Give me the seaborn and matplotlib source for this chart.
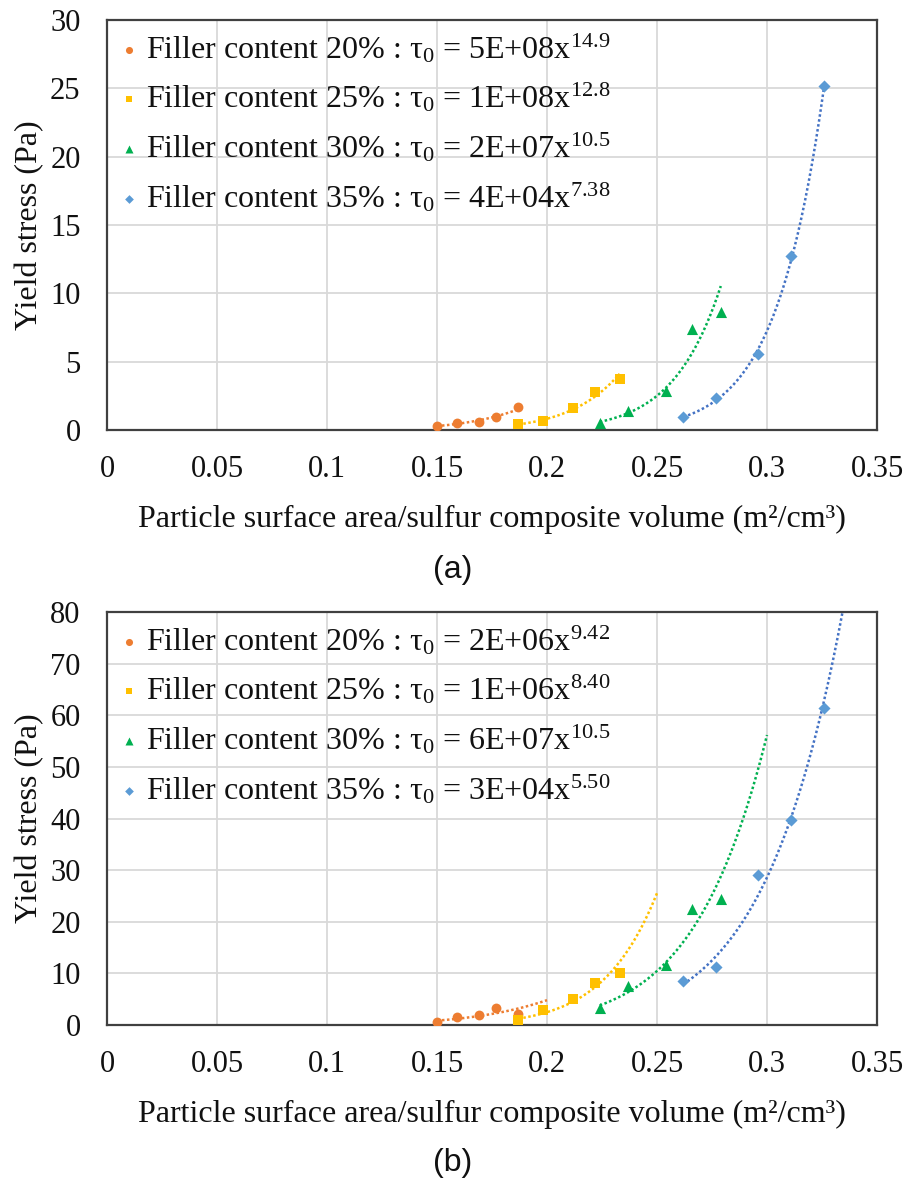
import numpy as np
import pandas as pd
import matplotlib
matplotlib.use("Agg")
import matplotlib.pyplot as plt
import seaborn as sns

sns.set_theme(style="whitegrid")
plt.rcParams["font.family"] = ["Liberation Serif", "DejaVu Serif"]
plt.rcParams["mathtext.fontset"] = "custom"
plt.rcParams["mathtext.rm"] = "Liberation Serif"
plt.rcParams["mathtext.it"] = "Liberation Serif:italic"

# Particle surface area / sulfur composite volume (m2/cm3) per filler content
series_names = ["Filler content 20%", "Filler content 25%",
                "Filler content 30%", "Filler content 35%"]
x20 = [0.150, 0.159, 0.169, 0.177, 0.187]
x25 = [0.187, 0.198, 0.212, 0.222, 0.233]
x30 = [0.224, 0.237, 0.254, 0.266, 0.279]
x35 = [0.262, 0.277, 0.296, 0.311, 0.326]

# Yield stress (Pa), panel (a)
y20_a = [0.29, 0.49, 0.61, 0.93, 1.70]
y25_a = [0.41, 0.68, 1.59, 2.80, 3.71]
y30_a = [0.53, 1.41, 2.85, 7.37, 8.66]
y35_a = [0.93, 2.34, 5.56, 12.75, 25.2]

# Yield stress (Pa), panel (b)
y20_b = [0.6, 1.6, 1.9, 3.2, 2.2]
y25_b = [0.93, 3.0, 5.0, 8.1, 10.0]
y30_b = [3.3, 7.5, 11.6, 22.4, 24.4]
y35_b = [8.5, 11.2, 29.0, 39.8, 61.4]

# Power-law trend equations shown in the legends: (coefficient, exponent)
eq_a = [("5E+08", "14.9"), ("1E+08", "12.8"), ("2E+07", "10.5"), ("4E+04", "7.38")]
eq_b = [("2E+06", "9.42"), ("1E+06", "8.40"), ("6E+07", "10.5"), ("3E+04", "5.50")]

# Forward extent of the trend lines in panel (b)
trend_end_b = [0.20, 0.25, 0.30, 0.35]

x_ticks = [0, 0.05, 0.1, 0.15, 0.2, 0.25, 0.3, 0.35]
x_tick_labels = ["0", "0.05", "0.1", "0.15", "0.2", "0.25", "0.3", "0.35"]
y_ticks_a = [0, 5, 10, 15, 20, 25, 30]
y_ticks_b = [0, 10, 20, 30, 40, 50, 60, 70, 80]

marker_colors = ["#ED7D31", "#FFC000", "#00B050", "#5B9BD5"]
line_colors = ["#ED7D31", "#FFC000", "#00B050", "#4472C4"]
markers = ["o", "s", "^", "D"]
marker_sizes = [50, 44, 64, 38]
text_color = "#111111"

W, H = 906, 1186
fig = plt.figure(figsize=(W / 100, H / 100), dpi=100)


def px_axes(left, top, right, bottom):
    return fig.add_axes([left / W, 1 - bottom / H, (right - left) / W, (bottom - top) / H])


def draw_panel(ax, xs, ys, eqs, ends, yticks, ymax, ax_h_px):
    for i, (x, y) in enumerate(zip(xs, ys)):
        df = pd.DataFrame({"x": x, "y": y})
        # power-law trend line fitted on log-log scale
        b, ln_a = np.polyfit(np.log(df["x"]), np.log(df["y"]), 1)
        x_end = ends[i] if ends is not None else max(x)
        xt = np.linspace(min(x), x_end, 200)
        tdf = pd.DataFrame({"x": xt, "y": np.exp(ln_a) * xt ** b})
        sns.lineplot(data=tdf, x="x", y="y", ax=ax, color=line_colors[i],
                     linewidth=1.8, linestyle=(0, (1, 1)), legend=False, zorder=2)
        coef, expo = eqs[i]
        label = (f"{series_names[i]} : τ$\\mathregular{{_0}}$ = {coef}x"
                 f"$\\mathregular{{^{{{expo}}}}}$")
        sns.scatterplot(data=df, x="x", y="y", ax=ax, color=marker_colors[i],
                        marker=markers[i], s=marker_sizes[i], linewidth=0,
                        label=label, zorder=3)

    ax.set_xlim(0, 0.35)
    ax.set_ylim(0, ymax)
    ax.set_xticks(x_ticks)
    ax.set_xticklabels(x_tick_labels)
    ax.set_yticks(yticks)
    ax.tick_params(axis="both", length=0, labelsize=22, colors=text_color)
    ax.tick_params(axis="x", pad=18)
    ax.tick_params(axis="y", pad=19)
    ax.grid(True, color="#d9d9d9", linewidth=1.3)
    ax.set_facecolor("white")
    for sp in ax.spines.values():
        sp.set_visible(True)
        sp.set_color("#404040")
        sp.set_linewidth(1.6)
    ax.set_xlabel("Particle surface area/sulfur composite volume (m²/cm³)",
                  fontsize=23, color=text_color)
    ax.set_ylabel("Yield stress (Pa)", fontsize=23, color=text_color)
    ax.xaxis.set_label_coords(0.5, -75 / ax_h_px)
    ax.yaxis.set_label_coords(-0.081, 0.5)
    leg = ax.legend(loc="upper left", bbox_to_anchor=(-0.004, 1.0 + 3 / ax_h_px),
                    frameon=False, fontsize=23, handlelength=0.7, handletextpad=0.17,
                    labelspacing=0.5, borderaxespad=0.05, markerscale=0.72)
    for t in leg.get_texts():
        t.set_color(text_color)


ax_a = px_axes(107, 20, 877, 430)
draw_panel(ax_a, [x20, x25, x30, x35], [y20_a, y25_a, y30_a, y35_a],
           eq_a, None, y_ticks_a, 30, 410)

ax_b = px_axes(107, 612, 877, 1025)
draw_panel(ax_b, [x20, x25, x30, x35], [y20_b, y25_b, y30_b, y35_b],
           eq_b, trend_end_b, y_ticks_b, 80, 413)

fig.text(0.5, 1 - 570 / H, "(a)", ha="center", va="center",
         fontsize=23, family="Liberation Sans", color=text_color)
fig.text(0.5, 1 - 1163 / H, "(b)", ha="center", va="center",
         fontsize=23, family="Liberation Sans", color=text_color)

fig.savefig("out.png", dpi=100, facecolor="white")
